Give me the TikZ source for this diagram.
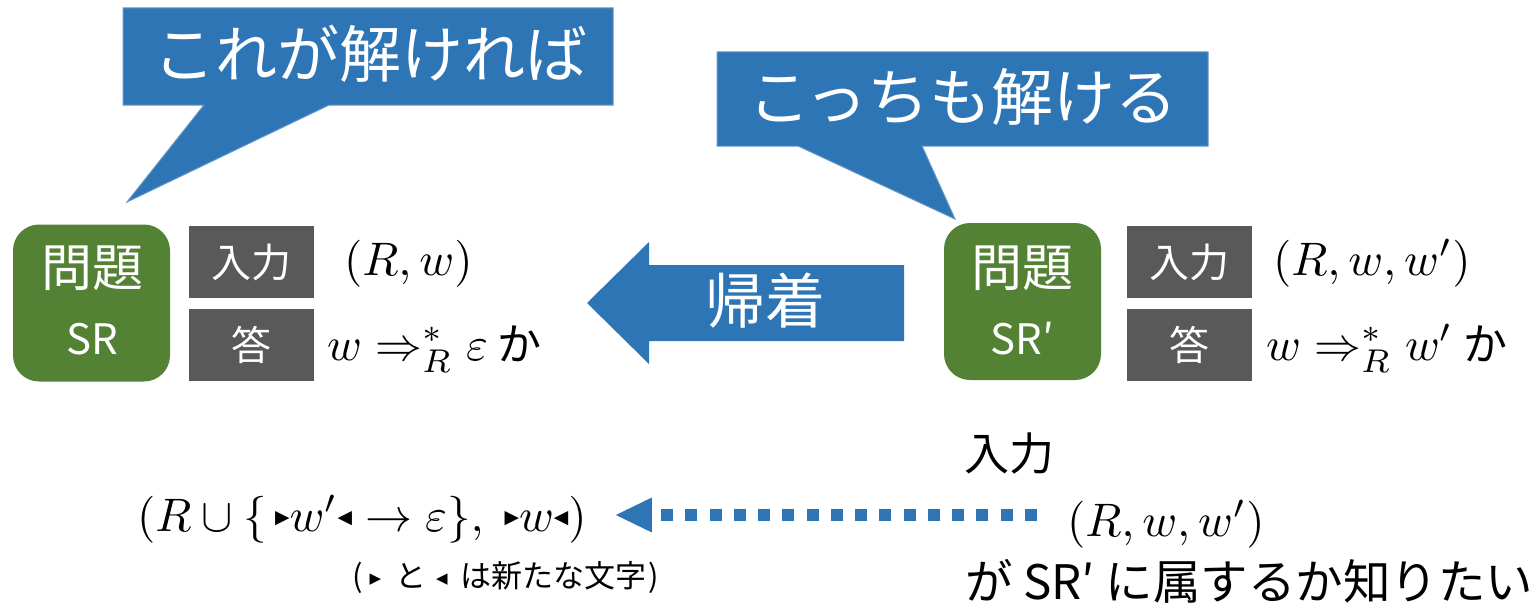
\documentclass[tikz,border=0pt]{standalone}
\usepackage{graphicx}
\usepackage{fontspec}
\newfontfamily\jp{Noto Sans CJK JP}
\newfontfamily\djv{DejaVu Sans}
\usetikzlibrary{arrows.meta}
\definecolor{cblue}{HTML}{2E75B6}
\definecolor{cgreen}{HTML}{548235}
\definecolor{cgray}{HTML}{595959}
\newcommand{\M}[1]{\scalebox{4.7}{\fontsize{10}{12}\selectfont$#1$}}
\newcommand{\trR}{\mbox{\raisebox{1.5pt}{\djv\fontsize{4}{4}\selectfont ▶}}}
\newcommand{\trL}{\mbox{\raisebox{1.5pt}{\djv\fontsize{4}{4}\selectfont ◀}}}
\newcommand{\ctrR}{\raisebox{3.5pt}{\djv\fontsize{15}{15}\selectfont ▶}}
\newcommand{\ctrL}{\raisebox{3.5pt}{\djv\fontsize{15}{15}\selectfont ◀}}
\tikzset{
  callout/.style={fill=cblue, draw=cblue!75!white, line width=1pt},
  ctext/.style={text=white, font=\jp\fontsize{62}{70}\selectfont, inner sep=0pt},
  probbox/.style={fill=cgreen, rounded corners=26pt, minimum width=157pt, minimum height=157pt, inner sep=0pt},
  probtext/.style={text=white, font=\jp\fontsize{51}{56}\selectfont, inner sep=0pt},
  srtext/.style={text=white, font=\jp\fontsize{42}{48}\selectfont, inner sep=0pt},
  graybox/.style={fill=cgray, text=white, minimum width=125pt, minimum height=72pt, inner sep=0pt, font=\jp\fontsize{40}{46}\selectfont},
  mathtext/.style={font=\jp\fontsize{44}{50}\selectfont, inner sep=0pt, anchor=base west},
  jptext/.style={font=\jp\fontsize{45}{50}\selectfont, inner sep=0pt},
  captext/.style={font=\jp\fontsize{31}{35}\selectfont, inner sep=0pt},
  dotconn/.style={draw=cblue, line width=12pt, dash pattern=on 12pt off 12.27pt,
     -{Triangle[length=36pt, width=35pt, line width=0pt]}},
}
\begin{document}
\begin{tikzpicture}[x=1pt,y=-1pt]
\useasboundingbox (0,0) rectangle (1533,602);

% callouts
\path[callout] (123,8) -- (613,8) -- (613,105) -- (329,105) -- (127,202) -- (204,105) -- (123,105) -- cycle;
\node[ctext] (c1) at (370,54) {これが解ければ};
\path[callout] (717,52) -- (1208,52) -- (1208,146) -- (922,146) -- (955,219) -- (798,146) -- (717,146) -- cycle;
\node[ctext] (c2) at (963,97) {こっちも解ける};

% left problem
\node[probbox] (p1) at (91.5,303) {};
\node[probtext] (p1a) at (92,268) {問題};
\node[srtext] (p1b) at (92,339) {SR};
\node[graybox] (g1) at (251.5,262) {入力};
\node[graybox] (g2) at (251.5,345) {答};
\node[mathtext] (m1) at (344,275) {\M{(R,w)}};
\node[mathtext] (m2) at (327,360) {\M{w \Rightarrow^{*}_{R} \varepsilon}\ か};

% right problem
\node[probbox] (p2) at (1022.5,301.5) {};
\node[probtext] (p2a) at (1022,268) {問題};
\node[srtext] (p2b) at (1022,339) {SR′};
\node[graybox] (g3) at (1189,262) {入力};
\node[graybox] (g4) at (1189,345) {答};
\node[mathtext] (m3) at (1273,275) {\M{(R,w,w')}};
\node[mathtext] (m4) at (1266,360) {\M{w \Rightarrow^{*}_{R} w'}\ か};

% reduction arrow
\fill[cblue] (904,265) -- (649,265) -- (649,242) -- (587,303) -- (649,364) -- (649,341) -- (904,341) -- cycle;
\node[text=white, font=\jp\fontsize{60}{66}\selectfont, inner sep=0pt] (red) at (765,301) {帰着};

% bottom
\node[jptext] (inp) at (1009,454) {入力};
\node[mathtext] (rww) at (1067,536) {\M{(R,w,w')}};
\node[jptext, font=\jp\fontsize{47.5}{52}\selectfont, anchor=west] (want) at (965,581) {が SR′ に属するか知りたい};
\node[mathtext] (lhs) at (137,531) {\M{(R\cup\{\,\trR w'\trL\to\varepsilon\},\;\trR w\trL)}};
\node[captext, anchor=west] (cap) at (352,577) {(\hspace{7pt}\ctrR\hspace{14pt}と\hspace{10pt}\ctrL\hspace{13pt}は新たな文字\hspace{2pt})};

\coordinate (dotY) at (0,515);
\draw[dotconn, shorten <=30pt, shorten >=29pt] (rww.west |- dotY) -- (lhs.east |- dotY);
\end{tikzpicture}
\end{document}
